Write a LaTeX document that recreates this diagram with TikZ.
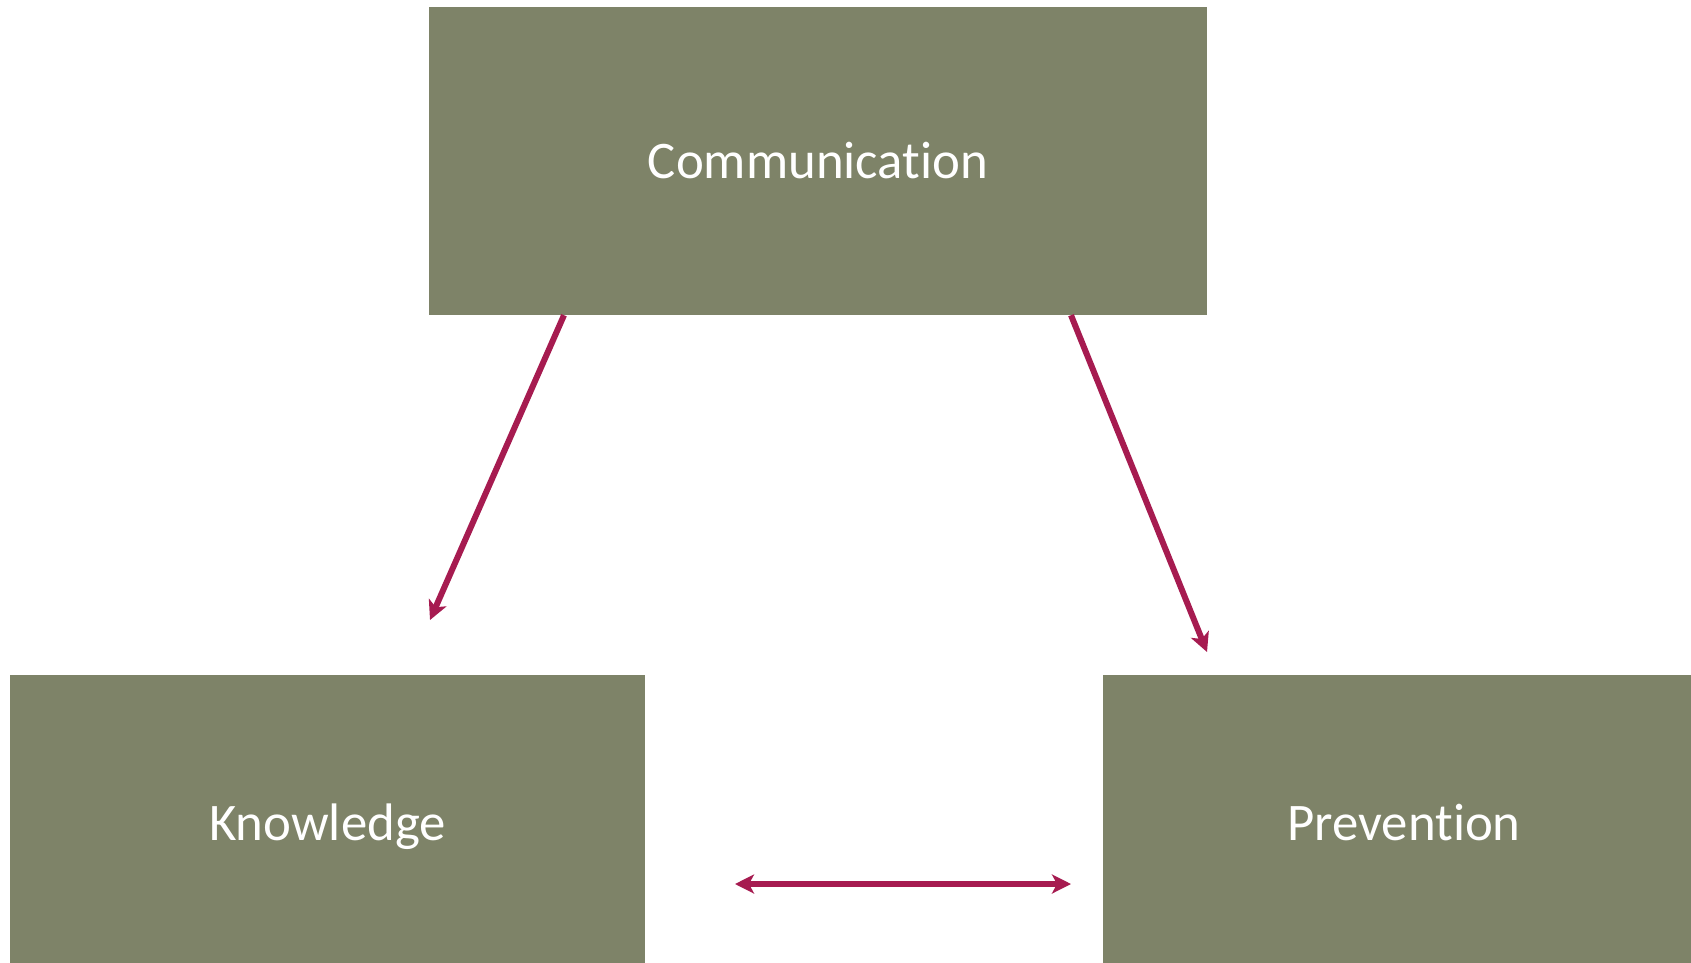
\documentclass[tikz,border=0pt]{standalone}
\usepackage{fontspec}
\setmainfont{Carlito}[Ligatures=NoCommon]
\usetikzlibrary{arrows.meta}
\definecolor{boxolive}{RGB}{126,131,104}
\definecolor{linkred}{RGB}{166,27,80}
\tikzset{
  topic/.style={fill=boxolive, draw=none, text=white, inner sep=0pt,
    text height=35pt, text depth=0pt,
    font=\fontsize{52.8}{60}\selectfont},
  link/.style={draw=linkred, line width=6pt, -{Stealth[length=19pt, width=19pt, inset=5pt]}},
  twoway/.style={draw=linkred, line width=6pt,
    {Stealth[length=19pt, width=19pt, inset=5pt]}-{Stealth[length=19pt, width=19pt, inset=5pt]}}
}
\begin{document}
\begin{tikzpicture}[x=1pt, y=-1pt]
  \useasboundingbox (0,0) rectangle (1691,963);
  \clip (0,0) rectangle (1691,963);
  \fill[white] (0,0) rectangle (1691,963);

  % the three topic boxes
  \node[topic, minimum width=778pt, minimum height=308pt] (comm) at (818,161) {Communication};
  \node[topic, minimum width=635pt, minimum height=296pt] (know) at (327.5,823) {Knowledge};
  \node[topic, minimum width=602pt, minimum height=296pt] (prev) at (1404,823) {Prevention};

  % free ends of the connectors
  \coordinate (kend) at (430,620);
  \coordinate (pend) at (1207,652);
  \coordinate (lend) at (735,884);
  \coordinate (rend) at (1071,884);

  \draw[link] ([xshift=-254pt]comm.south) -- (kend);
  \draw[link] ([xshift=253pt]comm.south) -- (pend);
  \draw[twoway] (lend) -- (rend);
\end{tikzpicture}
\end{document}
